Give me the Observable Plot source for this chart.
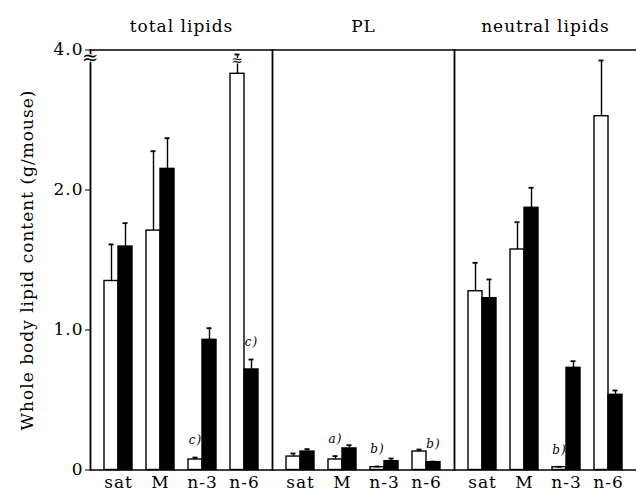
<!DOCTYPE html>
<html><head><meta charset="utf-8">
<script src="https://cdn.jsdelivr.net/npm/d3@7"></script>
<script src="https://cdn.jsdelivr.net/npm/@observablehq/plot@0.6"></script>
<style>body{margin:0;background:#fff}</style>
</head><body><div id="chart"></div>
<script>
const panels = ["total lipids", "PL", "neutral lipids"];
const categories = ["sat", "M", "n-3", "n-6"];
// open (white) bars: mean and mean+SD, per panel, per category
const openValues = [[1.35, 1.71, 0.075, 2.83], [0.096, 0.075, 0.02, 0.132], [1.277, 1.575, 0.02, 2.527]];
const openErrors = [[1.611, 2.277, 0.089, 2.968], [0.118, 0.099, 0.025, 0.146], [1.48, 1.77, 0.023, 2.925]];
// filled (black) bars
const filledValues = [[1.596, 2.151, 0.93, 0.718], [0.132, 0.154, 0.063, 0.056], [1.227, 1.873, 0.73, 0.537]];
const filledErrors = [[1.763, 2.37, 1.013, 0.789], [0.149, 0.177, 0.082, 0.06], [1.361, 2.016, 0.777, 0.568]];
const yTickValues = [0, 1, 2, 3];
const yTickLabels = ["0", "1.0", "2.0", "4.0"];
const notePanels = ["total lipids", "total lipids", "PL", "PL", "PL", "neutral lipids"];
const noteCategories = ["n-3", "n-6", "M", "n-3", "n-6", "n-3"];
const noteGroups = ["open", "filled", "open", "open", "filled", "open"];
const noteLabels = ["c)", "c)", "a)", "b)", "b)", "b)"];
const axisBreakAt = 2.946;       // break mark on the y axis
const barBreakAt = 2.925;        // break mark on the total n-6 error bar

const rows = [];
panels.forEach((p, i) => categories.forEach((c, j) => {
  rows.push({panel: p, key: c + "|open", group: "open", value: openValues[i][j], err: openErrors[i][j]});
  rows.push({panel: p, key: c + "|filled", group: "filled", value: filledValues[i][j], err: filledErrors[i][j]});
}));
const xDomain = categories.flatMap((c, j) => j ? ["gap" + j, c + "|open", c + "|filled"] : [c + "|open", c + "|filled"]);
const labelRows = panels.flatMap(p => categories.map(c => ({panel: p, key: c + "|open", label: c})));
const noteRows = noteLabels.map((l, i) => {
  const key = noteCategories[i] + "|" + noteGroups[i];
  const r = rows.find(d => d.panel === notePanels[i] && d.key === key);
  return {panel: notePanels[i], key, label: l, err: r.err};
});
const axisBreakRows = [{panel: "total lipids", at: axisBreakAt}];
const barBreakRows = [{panel: "total lipids", key: "n-6|open", at: barBreakAt}];

const W = 636, H = 493, ML = 90, MR = 0, MT = 49.5, MB = 23.5;
const step = (W - ML - MR) / panels.length / (xDomain.length + 2);

const chart = Plot.plot({
  width: W, height: H,
  marginLeft: ML, marginRight: MR, marginTop: MT, marginBottom: MB,
  style: {fontFamily: "'DejaVu Serif', serif", fontSize: "17px", color: "#000", background: "#fff", letterSpacing: "1px"},
  fx: {domain: panels, padding: 0, axis: "top", tickSize: 0, tickPadding: 18, label: null},
  x: {domain: xDomain, paddingInner: 0, paddingOuter: 1, axis: null},
  y: {domain: [0, 3], ticks: yTickValues, tickFormat: d => yTickLabels[yTickValues.indexOf(d)],
      tickSize: 5, tickPadding: 2, label: "Whole body lipid content (g/mouse)",
      labelAnchor: "center", labelArrow: false, labelOffset: 70},
  color: {domain: ["open", "filled"], range: ["#fff", "#000"]},
  marks: [
    Plot.barY(rows, {fx: "panel", x: "key", y: "value", fill: "group", stroke: "#000", strokeWidth: 1.4}),
    Plot.ruleX(rows, {fx: "panel", x: "key", y1: "value", y2: "err", stroke: "#000", strokeWidth: 1.4}),
    Plot.tickY(rows, {fx: "panel", x: "key", y: "err", stroke: "#000", strokeWidth: 1.8, insetLeft: 4.5, insetRight: 4.5}),
    Plot.frame({anchor: "left", strokeWidth: 1.8}),
    Plot.frame({anchor: "top", strokeWidth: 1.5}),
    Plot.frame({anchor: "bottom", strokeWidth: 1.5}),
    Plot.text(labelRows, {fx: "panel", x: "key", text: "label", frameAnchor: "bottom", dx: step / 2, dy: 6, lineAnchor: "top"}),
    Plot.text(noteRows, {fx: "panel", x: "key", y: "err", text: "label", dy: -17, fontStyle: "italic", fontSize: 12, letterSpacing: 0}),
    Plot.text(axisBreakRows, {fx: "panel", y: "at", frameAnchor: "left", textAnchor: "middle", text: () => "≈", fontSize: 20, fill: "#000", stroke: "#fff", strokeWidth: 2}),
    Plot.text(barBreakRows, {fx: "panel", x: "key", y: "at", text: () => "≈", fontSize: 14, fill: "#000", stroke: "#fff", strokeWidth: 1.5})
  ]
});
document.getElementById("chart").appendChild(chart);
</script>
</body></html>
